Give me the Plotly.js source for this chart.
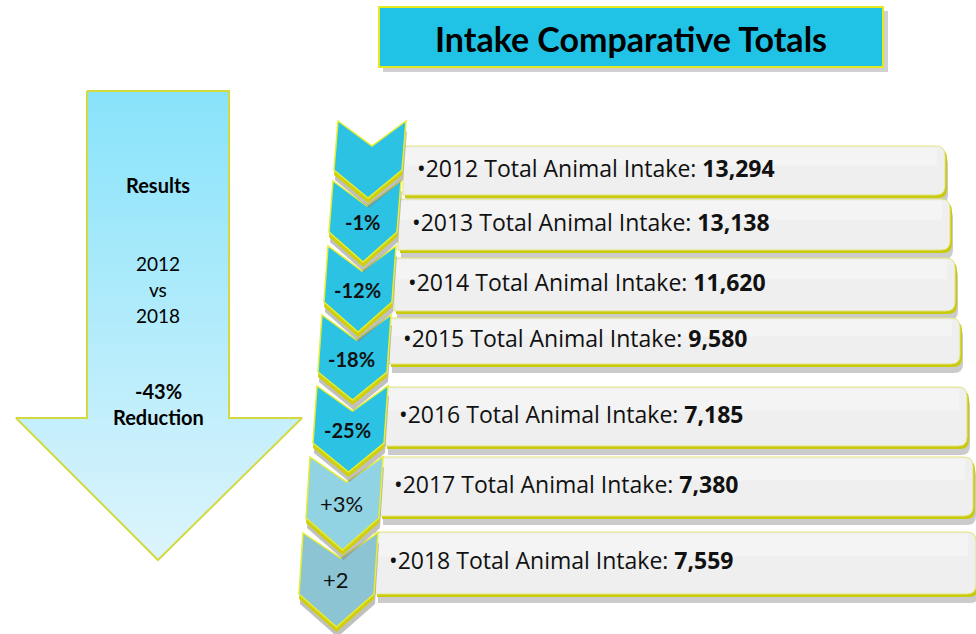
<!DOCTYPE html>
<html>
<head>
<meta charset="utf-8">
<script src="https://cdn.plot.ly/plotly-3.0.1.min.js"></script>
<style>html,body{margin:0;padding:0;background:#fff;}#chart{width:976px;height:634px;}</style>
</head>
<body>
<div id="chart"></div>
<script>
// ---- data ----
const years = [2012, 2013, 2014, 2015, 2016, 2017, 2018];
const intake = [13294, 13138, 11620, 9580, 7185, 7380, 7559];
const changeLabels = ["", "-1%", "-12%", "-18%", "-25%", "+3%", "+2"];
const rowLabel = "Total Animal Intake: ";
const titleText = "Intake Comparative Totals";
const summaryHead = "Results";
const summaryCompare = ["2012", "vs", "2018"];
const summaryChange = "-43%";
const summaryWord = "Reduction";

// ---- layout geometry (pixels) ----
const boxes = [ // left, top, right, bottom
  [403,146,945,195],[398,199,950,250],[394,258,955,311],[389,318,960,364],
  [385,387,967,446],[380,457,973,516],[375,532,976,594]];
const chev = [ // xl, xr, yt, yb, tip
  [338,406,121,170,198],[333,401,181,232,262],[328,396,246,302,332],
  [322,391,315,372,400],[317,388,386,443,472],[310,383,457,518,550],[303,378,533,594,627]];
const chevColors = ["#2bc2e3","#2bc2e3","#2bc2e3","#2bc2e3","#2bc2e3","#91d3e3","#8cc4d4"];
const FONT = "Lato, 'Open Sans', sans-serif";
const ROWFONT = "'Open Sans', Lato, sans-serif";

const shapes = [];
const annotations = [];

function chevPath(c, dx, dy) {
  const [xl, xr, yt, yb, tip] = c;
  const s = 4, dn = 25, xm = (xl + xr) / 2;
  const P = [[xl,yt],[xm,yt+dn],[xr,yt],[xr-s,yb],[xm-s,tip],[xl-s,yb]];
  return "M" + P.map(p => (p[0]+dx) + "," + (p[1]+dy)).join(" L") + " Z";
}
function boxPath(b, dx, dy) {
  const [l,t,r,bt] = b.map((v,i)=> v + (i%2===0?dx:dy));
  const rad = 9;
  return `M${l},${t} L${r-rad},${t} Q${r},${t} ${r},${t+rad} L${r},${bt-rad} Q${r},${bt} ${r-rad},${bt} L${l},${bt} Z`;
}

// title box
shapes.push({type:"rect", x0:383, x1:888, y0:11, y1:72, fillcolor:"rgba(120,120,120,0.35)", line:{width:0}, layer:"below"});
shapes.push({type:"rect", x0:379, x1:883, y0:7, y1:67, fillcolor:"#20c3e6", line:{color:"#e4e81c", width:2}, layer:"below"});
annotations.push({x:631, y:38, xref:"x", yref:"y", text:"<b>"+titleText+"</b>", showarrow:false,
  font:{family:FONT, size:34, color:"#000"}});

boxes.forEach((b, i) => {
  shapes.push({type:"path", path:boxPath(b,3,9), fillcolor:"rgba(140,140,140,0.45)", line:{width:0}, layer:"below"});
  shapes.push({type:"path", path:boxPath(b,2,3), fillcolor:"#c9c90e", line:{width:0}, layer:"below"});
  shapes.push({type:"path", path:boxPath(b,0,0), fillcolor:"#efefef", line:{color:"#e2e47a", width:1}, layer:"below"});
  shapes.push({type:"rect", x0:b[0]+2, x1:b[2]-8, y0:b[1]+2, y1:b[1]+(b[3]-b[1])*0.4, fillcolor:"rgba(255,255,255,0.3)", line:{width:0}, layer:"below"});
});

// chevrons, bottom row first so upper rows lie on top
for (let i = chev.length - 1; i >= 0; i--) {
  const c = chev[i];
  shapes.push({type:"path", path:chevPath(c,1,10), fillcolor:"rgba(130,130,130,0.5)", line:{width:0}, layer:"below"});
  shapes.push({type:"path", path:chevPath(c,0,5), fillcolor:"#cfcf10", line:{width:0}, layer:"below"});
  shapes.push({type:"path", path:chevPath(c,0,0), fillcolor:chevColors[i], line:{color:"#e6ee30", width:1.5}, layer:"below"});
}

// row texts
years.forEach((yr, i) => {
  const b = boxes[i];
  annotations.push({x:b[0]+12, y:(b[1]+b[3])/2 - 3, xref:"x", yref:"y", xanchor:"left", yanchor:"middle",
    text:"\u2022" + yr + " " + rowLabel + "<b>" + intake[i].toLocaleString("en-US") + "</b>",
    showarrow:false, font:{family:ROWFONT, size:23, color:"#111"}});
  if (changeLabels[i]) {
    const c = chev[i];
    const xm = (c[0]+c[1])/2 - 5;
    const ym = (c[2]+25+c[3])/2 + 3;
    const bold = changeLabels[i].startsWith("-");
    annotations.push({x:xm, y:ym, xref:"x", yref:"y", showarrow:false,
      text: bold ? "<b>"+changeLabels[i]+"</b>" : changeLabels[i],
      font:{family:FONT, size: bold ? 20 : 22, color:"#111"}});
  }
});

// big arrow as filled trace with vertical gradient
const ax = [87, 229, 229, 302, 158, 16, 87, 87];
const ay = [91, 91, 418, 418, 560, 418, 418, 91];
const arrowTrace = {x:ax, y:ay, type:"scatter", mode:"lines", fill:"toself",
  line:{color:"#d2da40", width:2},
  fillgradient:{type:"vertical", colorscale:[[0,"#ddf4fc"],[1,"#88e3fa"]]},
  hoverinfo:"skip", showlegend:false};

annotations.push({x:158, y:185, text:"<b>"+summaryHead+"</b>", showarrow:false, font:{family:FONT, size:20, color:"#000"}});
summaryCompare.forEach((t, k) => {
  annotations.push({x:158, y:263 + k*26, text:t, showarrow:false, font:{family:FONT, size:19, color:"#000"}});
});
annotations.push({x:158, y:391, text:"<b>"+summaryChange+"</b>", showarrow:false, font:{family:FONT, size:20, color:"#000"}});
annotations.push({x:158, y:417, text:"<b>"+summaryWord+"</b>", showarrow:false, font:{family:FONT, size:20, color:"#000"}});

const layout = {
  width:976, height:634, margin:{l:0,r:0,t:0,b:0},
  paper_bgcolor:"#fff", plot_bgcolor:"rgba(0,0,0,0)",
  xaxis:{range:[0,976], visible:false, fixedrange:true},
  yaxis:{range:[634,0], visible:false, fixedrange:true},
  shapes, annotations, showlegend:false
};
Plotly.newPlot("chart", [arrowTrace], layout, {displayModeBar:false, staticPlot:true});
</script>
</body>
</html>
